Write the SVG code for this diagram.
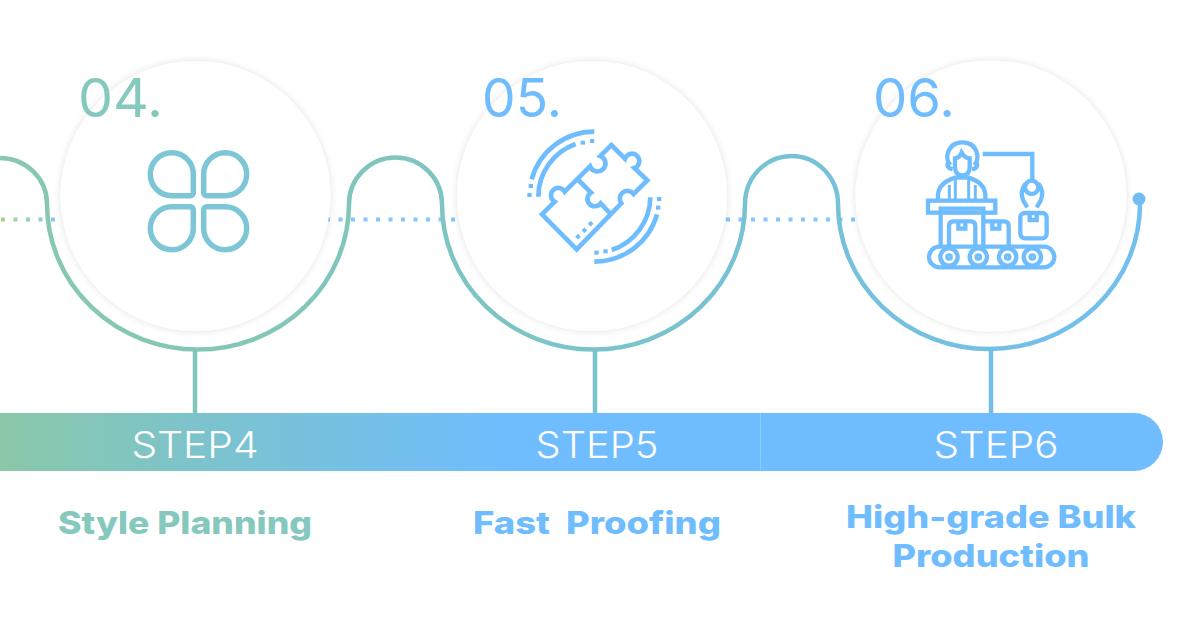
<svg xmlns="http://www.w3.org/2000/svg" width="1182" height="619" viewBox="0 0 1182 619">
<style>
.num{font-family:"Inter","Open Sans",sans-serif;font-size:54px;font-weight:400}
.step{font-family:"Inter","Open Sans",sans-serif;font-size:37px;font-weight:300;fill:#fff;text-anchor:middle}
.lbl{font-family:"Inter","Open Sans",sans-serif;font-size:31px;font-weight:800;text-anchor:middle}
.disc{fill:#fff;filter:url(#sh)}
.ic{fill:none;stroke-linejoin:miter;stroke-linecap:butt}
.blue{fill:#6fbdff}
</style>
<defs>
<filter id="sh" x="-10%" y="-10%" width="120%" height="120%"><feDropShadow dx="0" dy="0" stdDeviation="3.5" flood-color="#000" flood-opacity="0.12"/></filter>
<linearGradient id="curve" gradientUnits="userSpaceOnUse" x1="0" y1="0" x2="1140" y2="0"><stop offset="0" stop-color="#87c8ae"/><stop offset="0.3" stop-color="#81c6bb"/><stop offset="0.55" stop-color="#79c3cb"/><stop offset="1" stop-color="#72bff0"/></linearGradient>
<linearGradient id="dots" gradientUnits="userSpaceOnUse" x1="0" y1="0" x2="60" y2="0"><stop offset="0" stop-color="#9bd05f"/><stop offset="1" stop-color="#6fbdff"/></linearGradient>
<linearGradient id="bar" gradientUnits="userSpaceOnUse" x1="0" y1="0" x2="510" y2="0"><stop offset="0" stop-color="#8ac8a8"/><stop offset="0.4" stop-color="#7cc3cd"/><stop offset="1" stop-color="#6fbdff"/></linearGradient>
</defs>
<g id="dotted" stroke="url(#dots)" stroke-width="4" stroke-dasharray="4 8.500" fill="none" opacity="0.85"><line x1="1" y1="219.500" x2="1000" y2="219.500"/></g>
<g id="node-4-disc"><circle class="disc" cx="195.500" cy="196" r="135"/></g>
<g id="node-5-disc"><circle class="disc" cx="592" cy="196" r="135"/></g>
<g id="node-6-disc"><circle class="disc" cx="991" cy="196" r="135.500"/></g>
<rect id="bar-shape" x="-30" y="413" width="1193" height="58" rx="29" fill="url(#bar)"/>
<line x1="760.500" y1="413" x2="760.500" y2="471" stroke="#8ccaff" stroke-width="1"/>
<g id="connectors" fill="none" stroke-width="4.500">
<path stroke="url(#curve)" d="M0,158 A47,46 0 0 1 47,204 A151,145.500 0 0 0 349,204 A46.500,46.500 0 0 1 442,204 A151.500,145.500 0 0 0 745,204 A46.500,48 0 0 1 838,204 A151,145 0 0 0 1140,204 L1139.500,199"/>
<line x1="195" y1="350" x2="195" y2="413" stroke="#80c6bc"/>
<line x1="595" y1="350" x2="595" y2="413" stroke="#79c3ca"/>
<line x1="991" y1="350" x2="991" y2="413" stroke="#72bfe8"/>
<circle cx="1139" cy="199" r="6.500" fill="#6fbdf2" stroke="none"/>
</g>
<g id="node-4">
<text class="num" x="78" y="117" fill="#85c8bd" textLength="85" lengthAdjust="spacingAndGlyphs">04.</text>
<g class="ic" stroke="#7cc6d6" stroke-width="5.500">
<path d="M172,195.700 A21.500 21.500 0 1 1 193.300,174.500 V192.700 a3 3 0 0 1 -3 3 Z"/>
<path d="M225,195.700 A21.500 21.500 0 1 0 203.700,174.500 V192.700 a3 3 0 0 0 3 3 Z"/>
<path d="M172,206.800 A21.500 21.500 0 1 0 193.300,228 V209.800 a3 3 0 0 0 -3 -3 Z"/>
<path d="M225,206.800 A21.500 21.500 0 1 1 203.700,228 V209.800 a3 3 0 0 1 3 -3 Z"/>
</g>
<text class="step" x="195" y="458" textLength="127" lengthAdjust="spacingAndGlyphs">STEP4</text>
<text class="lbl" x="185" y="534" fill="#85c8bd" textLength="254" lengthAdjust="spacingAndGlyphs">Style Planning</text>
</g>
<g id="node-5">
<text class="num" x="482" y="117" fill="#6fbdff" textLength="80" lengthAdjust="spacingAndGlyphs">05.</text>
<g transform="translate(510,120) scale(0.3333)">
<g class="ic" stroke="#6fbdff" stroke-width="14">
<path d="M96,283 L134,245 A22,22 0 1 1 164,215 L240,139 A24,24 0 1 0 271,108 L304,75 L345,116 A22,22 0 1 1 373,144 L412,181 L371,222 A22,22 0 1 0 334,250 L200,388 Z"/>
<path d="M205,180 L243,218 A22,22 0 1 0 272,250 L302,282"/>
<path d="M65,178 A195,195 0 0 1 253,35"/>
<path d="M85,230 A168,168 0 0 1 197,72"/>
<path d="M441,283 A195,195 0 0 1 253,425"/>
<path d="M421,232 A168,168 0 0 1 305,390"/>
</g>
<g class="blue">
<rect x="212" y="62" width="13" height="12"/><rect x="240" y="57" width="13" height="12"/>
<rect x="52" y="219" width="13" height="12"/><rect x="56" y="192" width="13" height="12"/>
<rect x="253" y="392" width="13" height="12"/><rect x="280" y="388" width="13" height="12"/>
<rect x="441" y="231" width="13" height="12"/><rect x="438" y="257" width="13" height="12"/>
<rect x="198" y="344" width="12" height="12" transform="rotate(45 204 350)"/><rect x="217" y="325" width="12" height="12" transform="rotate(45 223 331)"/><rect x="236" y="305" width="12" height="12" transform="rotate(45 242 311)"/>
</g>
</g>
<text class="step" x="597" y="458" textLength="123" lengthAdjust="spacingAndGlyphs">STEP5</text>
<text class="lbl" x="597" y="534" fill="#6fbdff" textLength="248" lengthAdjust="spacingAndGlyphs" xml:space="preserve">Fast  Proofing</text>
</g>
<g id="node-6">
<text class="num" x="873" y="117" fill="#6fbdff" textLength="82" lengthAdjust="spacingAndGlyphs">06.</text>
<g transform="translate(910,130) scale(0.3333)" class="ic" stroke="#6fbdff" stroke-width="13">
<rect x="57" y="350" width="376" height="62" rx="31"/>
<circle cx="117" cy="381" r="26"/><circle cx="205" cy="381" r="26"/><circle cx="293" cy="381" r="26"/><circle cx="367" cy="381" r="26"/>
<circle cx="117" cy="381" r="5"/><circle cx="205" cy="381" r="5"/><circle cx="293" cy="381" r="5"/><circle cx="367" cy="381" r="5"/>
<rect x="54" y="212" width="202" height="36"/>
<path d="M92,350 V236 H220 V350"/>
<path d="M117,350 V288 Q117,274 131,274 H182 Q196,274 196,288 V350"/>
<path d="M145,278 V296 H166 V278"/>
<path d="M222,274 H282 Q296,274 296,288 V350"/>
<path d="M247,278 V296 H268 V278"/>
<rect x="331" y="249" width="79" height="76" rx="13"/>
<path d="M359,253 V270 H380 V253"/>
<path d="M218,72 H367 V148"/>
<circle cx="365" cy="172" r="20"/>
<path d="M347,160 Q328,185 340,212 L352,232 M385,160 Q404,185 392,212 L380,232"/>
<path d="M84,210 V195 Q86,158 136,143 H176 Q224,158 226,195 V210"/>
<path d="M136,143 V210 M176,143 V210 M118,165 V210 M196,165 V210" stroke-width="9"/>
<path d="M135,85 V110 Q135,136 157,136 Q179,136 179,110 V85 Q165,85 155,68 Q150,82 135,85 Z"/>
<path d="M122,105 Q110,95 112,75 Q120,37 157,37 Q195,37 202,75 Q204,95 192,105"/>
<path d="M116,95 Q105,112 128,118 M198,95 Q209,112 186,118"/>
</g>
<text class="step" x="996" y="458" textLength="125" lengthAdjust="spacingAndGlyphs">STEP6</text>
<text class="lbl" x="991" y="528" fill="#6fbdff" textLength="290" lengthAdjust="spacingAndGlyphs">High-grade Bulk</text>
<text class="lbl" x="991" y="567" fill="#6fbdff" textLength="197" lengthAdjust="spacingAndGlyphs">Production</text>
</g>
</svg>
